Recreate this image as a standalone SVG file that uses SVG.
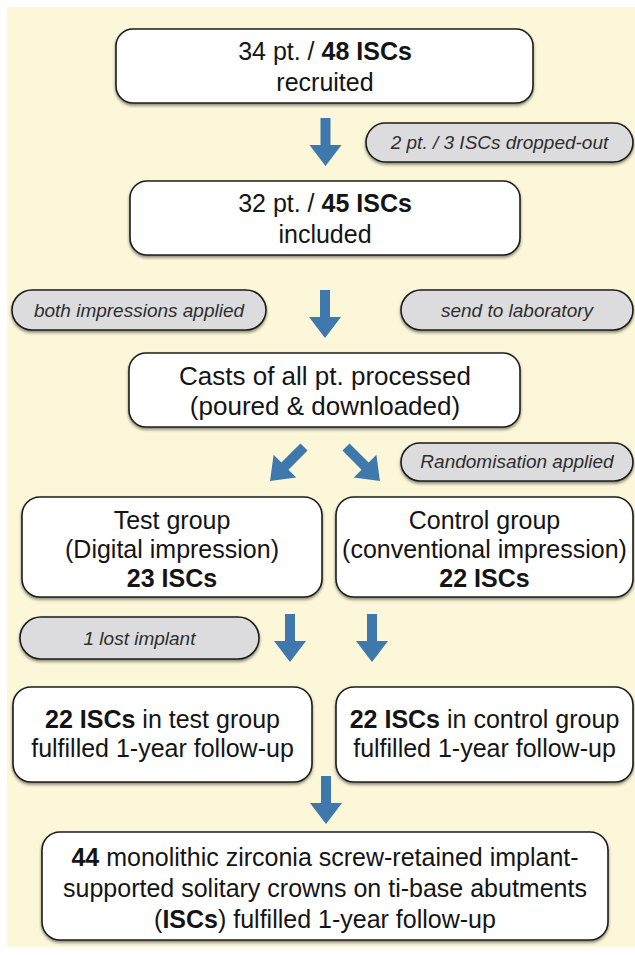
<svg xmlns="http://www.w3.org/2000/svg" width="635" height="955" viewBox="0 0 635 955">
<defs>
<style>
.box{fill:#ffffff;stroke:#1c1c1c;stroke-width:1.6;filter:url(#sh)}
.pill{fill:#dcdcdf;stroke:#1c1c1c;stroke-width:1.6;filter:url(#sh)}
.t{font-family:"Liberation Sans",Arial,sans-serif;font-size:25px;fill:#141414;text-anchor:middle}
.t26{font-size:26px}
.p{font-family:"Liberation Sans",Arial,sans-serif;font-size:19px;font-style:italic;fill:#2e2e2e;text-anchor:middle}
.b{font-weight:bold}
.arrow{fill:#3f78ad}
</style>
<filter id="sh" x="-10%" y="-20%" width="120%" height="150%">
<feDropShadow dx="0" dy="2" stdDeviation="1.5" flood-color="#000" flood-opacity="0.45"/>
</filter>
<path id="arr" d="M-5,0 H5 V27 H16 L0,48 L-16,27 H-5 Z"/>
</defs>
<rect x="7" y="7" width="628" height="940" fill="#fcf7d8"/>

<g id="connectors" class="arrow">
<use href="#arr" transform="translate(325.5,118)"/>
<use href="#arr" transform="translate(325,290)"/>
<use href="#arr" transform="translate(304,447) rotate(45)"/>
<use href="#arr" transform="translate(346,447) rotate(-45)"/>
<use href="#arr" transform="translate(290,614)"/>
<use href="#arr" transform="translate(372,614)"/>
<use href="#arr" transform="translate(326,776)"/>
</g>

<g id="recruited">
<rect class="box" x="116" y="29" width="417" height="74" rx="17"/>
<text class="t" x="325" y="60">34 pt. / <tspan class="b">48 ISCs</tspan></text>
<text class="t" x="325" y="91">recruited</text>
</g>

<g id="dropout">
<rect class="pill" x="366" y="123" width="267" height="39" rx="19.5"/>
<text class="p" x="499.5" y="149">2 pt. / 3 ISCs dropped-out</text>
</g>

<g id="included">
<rect class="box" x="130" y="181" width="390" height="74" rx="17"/>
<text class="t" x="325" y="212">32 pt. / <tspan class="b">45 ISCs</tspan></text>
<text class="t" x="325" y="243">included</text>
</g>

<g id="both-impressions">
<rect class="pill" x="12" y="290" width="254" height="40" rx="20"/>
<text class="p" x="139" y="317">both impressions applied</text>
</g>

<g id="send-lab">
<rect class="pill" x="401" y="290" width="232" height="40" rx="20"/>
<text class="p" x="517" y="317">send to laboratory</text>
</g>

<g id="casts">
<rect class="box" x="129" y="353" width="391" height="74" rx="17"/>
<text class="t t26" x="325" y="385">Casts of all pt. processed</text>
<text class="t t26" x="325" y="415">(poured &amp; downloaded)</text>
</g>

<g id="randomisation">
<rect class="pill" x="401" y="443" width="232" height="38" rx="19"/>
<text class="p" x="517" y="468">Randomisation applied</text>
</g>

<g id="test-group">
<rect class="box" x="22" y="497" width="300" height="100" rx="18"/>
<text class="t" x="172" y="529">Test group</text>
<text class="t" x="172" y="558">(Digital impression)</text>
<text class="t b" x="172" y="587">23 ISCs</text>
</g>

<g id="control-group">
<rect class="box" x="336" y="497" width="297" height="100" rx="18"/>
<text class="t" x="484.5" y="529">Control group</text>
<text class="t" x="484.5" y="558">(conventional impression)</text>
<text class="t b" x="484.5" y="587">22 ISCs</text>
</g>

<g id="lost-implant">
<rect class="pill" x="20" y="617" width="239" height="42" rx="21"/>
<text class="p" x="139.5" y="645">1 lost implant</text>
</g>

<g id="test-followup">
<rect class="box" x="13" y="687" width="299" height="95" rx="18"/>
<text class="t" x="162.5" y="728"><tspan class="b">22 ISCs</tspan> in test group</text>
<text class="t" x="162.5" y="757">fulfilled 1-year follow-up</text>
</g>

<g id="control-followup">
<rect class="box" x="336" y="687" width="297" height="95" rx="18"/>
<text class="t" x="484.5" y="728"><tspan class="b">22 ISCs</tspan> in control group</text>
<text class="t" x="484.5" y="757">fulfilled 1-year follow-up</text>
</g>

<g id="final">
<rect class="box" x="42" y="832" width="566" height="108" rx="18"/>
<text class="t" x="325" y="866"><tspan class="b">44</tspan> monolithic zirconia screw-retained implant-</text>
<text class="t" x="325" y="897">supported solitary crowns on ti-base abutments</text>
<text class="t" x="325" y="928">(<tspan class="b">ISCs</tspan>) fulfilled 1-year follow-up</text>
</g>
</svg>
